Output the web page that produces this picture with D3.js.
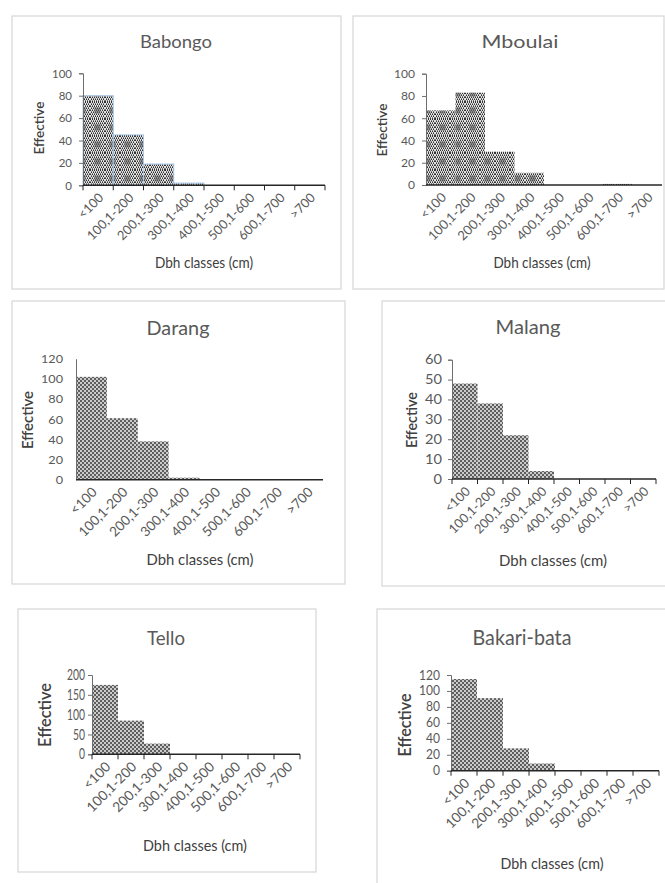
<!DOCTYPE html>
<html>
<head>
<meta charset="utf-8">
<script src="https://cdn.jsdelivr.net/npm/d3@7"></script>
<style>
  html, body { margin: 0; padding: 0; background: #fff; }
  svg { display: block; }
  text { font-family: Lato, "Open Sans", sans-serif; }
</style>
</head>
<body>
<svg id="chart" width="665" height="883"></svg>
<script>
// Diameter classes shared by all sites
const categories = ["<100", "100,1-200", "200,1-300", "300,1-400", "400,1-500", "500,1-600", "600,1-700", ">700"];

// Number of stems per diameter class, one array per site
const babongo    = [80, 45, 19, 2, 0, 0, 0, 0];
const mboulai    = [67, 83, 30, 11, 0, 0, 1, 0];
const darang     = [102, 61, 38, 2, 0, 0, 0, 0];
const malang     = [48, 38, 22, 4, 0, 0, 0, 0];
const tello      = [175, 85, 27, 0, 0, 0, 0, 0];
const bakariBata = [115, 91, 28, 9, 0, 0, 0, 0];

// Y-axis tick values per site
const babongoTicks = [0, 20, 40, 60, 80, 100];
const mboulaiTicks = [0, 20, 40, 60, 80, 100];
const darangTicks  = [0, 20, 40, 60, 80, 100, 120];
const malangTicks  = [0, 10, 20, 30, 40, 50, 60];
const telloTicks   = [0, 50, 100, 150, 200];
const bakariTicks  = [0, 20, 40, 60, 80, 100, 120];

const xTitle = "Dbh classes (cm)";
const yTitle = "Effective";

// Panel layout.
// w = rendered widths (px): [title, x title, y title length, widest tick label, "100,1-200" class label]
// h = cap heights (px) of horizontal texts: [title, x title, tick labels]
const panels = [
  { name: "Babongo", values: babongo, ticks: babongoTicks, max: 100, fill: "coarse", outline: "#a8c8e8",
    box: [12, 16, 341, 289], plot: { x0: 83, x1: 325, y0: 185.3, y1: 73.3 }, xTicks: true, yTicks: true,
    title: [176, 42], yLab: [39, 128], xLab: [204, 263], w: [72, 98, 53, 20, 60], h: [12.7, 11, 8.6], tickGap: 11 },
  { name: "Mboulai", values: mboulai, ticks: mboulaiTicks, max: 100, fill: "coarse", outline: null,
    box: [353, 16, 664, 289], plot: { x0: 426, x1: 662, y0: 185, y1: 73.7 }, xTicks: false, yTicks: true,
    title: [520, 42], yLab: [382, 130], xLab: [542, 263], w: [77, 97, 53, 21, 61], h: [12.5, 10.8, 8.6], tickGap: 11 },
  { name: "Darang", values: darang, ticks: darangTicks, max: 120, fill: "fine", outline: null,
    box: [12, 301, 345, 584], plot: { x0: 76, x1: 323, y0: 479.7, y1: 358.7 }, xTicks: false, yTicks: false,
    title: [178, 328], yLab: [28, 420], xLab: [200, 560], w: [63, 107, 58, 22, 63], h: [14, 11, 8.8], tickGap: 13 },
  { name: "Malang", values: malang, ticks: malangTicks, max: 60, fill: "fine", outline: null,
    box: [382, 301, 666, 586], plot: { x0: 452, x1: 656, y0: 479, y1: 359.7 }, xTicks: true, yTicks: true,
    title: [528, 327], yLab: [412, 420], xLab: [553, 560], w: [65, 108, 56, 17, 60], h: [14.3, 11.7, 9.3], tickGap: 10 },
  { name: "Tello", values: tello, ticks: telloTicks, max: 200, fill: "fine", outline: null,
    box: [18, 609, 316, 872], plot: { x0: 92, x1: 300, y0: 754.3, y1: 675 }, xTicks: true, yTicks: true,
    title: [166, 638], yLab: [45, 715], xLab: [195, 845], w: [38, 104, 64, 18, 64], h: [14, 11.7, 10.5], tickGap: 7 },
  { name: "Bakari-bata", values: bakariBata, ticks: bakariTicks, max: 120, fill: "fine", outline: null,
    box: [377, 609, 667, 891], plot: { x0: 451, x1: 659, y0: 770.7, y1: 675 }, xTicks: true, yTicks: true,
    title: [522, 638], yLab: [405, 725], xLab: [552, 863], w: [99, 103, 63, 21, 64], h: [15, 11.7, 9], tickGap: 11 }
];

const CAP = 0.72; // cap height of the face, as a fraction of the font size

const svg = d3.select("#chart");
const defs = svg.append("defs");

// Size a set of labels so that the reference label spans the requested length
function fitSize(selection, refNode, width) {
  const base = 20;
  selection.style("font-size", base + "px");
  const measured = refNode.getComputedTextLength();
  selection.style("font-size", (base * width / measured).toFixed(2) + "px");
}

// Set the font size from a cap height, then return the horizontal scale giving the requested width
function sizeAndStretch(selection, refNode, capH, width) {
  const fs = capH / CAP;
  selection.style("font-size", fs.toFixed(2) + "px");
  const measured = refNode.getComputedTextLength();
  return Math.max(0.55, Math.min(1.4, width / measured));
}

// Fine 50% stipple fill
const fine = defs.append("pattern").attr("id", "fine")
  .attr("patternUnits", "userSpaceOnUse").attr("width", 4).attr("height", 4);
fine.append("rect").attr("width", 4).attr("height", 4).attr("fill", "#cbcbcb");
[[0, 0], [2, 2]].forEach(([x, y]) =>
  fine.append("rect").attr("x", x).attr("y", y).attr("width", 2).attr("height", 2).attr("fill", "#5e5e5e"));

// Coarse checkered fill with darker blocks
const coarse = defs.append("pattern").attr("id", "coarse")
  .attr("patternUnits", "userSpaceOnUse").attr("width", 15).attr("height", 17);
coarse.append("rect").attr("width", 15).attr("height", 17).attr("fill", "#e2e2e2");
for (let y = 0; y < 17; y += 2) {
  for (let x = 0; x < 15; x += 2) {
    coarse.append("rect").attr("x", x + (y % 4 === 0 ? 0 : 1)).attr("y", y)
      .attr("width", 1).attr("height", 1).attr("fill", "#333");
    coarse.append("rect").attr("x", x + (y % 4 === 0 ? 1 : 0)).attr("y", y + 1)
      .attr("width", 1).attr("height", 1).attr("fill", "#777");
  }
}
coarse.append("rect").attr("x", 4).attr("y", 5).attr("width", 7).attr("height", 7)
  .attr("fill", "#777").attr("opacity", 0.45);
coarse.append("rect").attr("x", 5).attr("y", 6).attr("width", 5).attr("height", 5)
  .attr("fill", "#444").attr("opacity", 0.3);

panels.forEach(p => {
  const g = svg.append("g");
  const [bx0, by0, bx1, by1] = p.box;

  // chart frame
  g.append("rect").attr("x", bx0).attr("y", by0)
    .attr("width", bx1 - bx0).attr("height", by1 - by0)
    .attr("fill", "#fff").attr("stroke", "#d9d9d9").attr("stroke-width", 1.3);

  const x = d3.scaleBand().domain(categories).range([p.plot.x0, p.plot.x1]).padding(0);
  const y = d3.scaleLinear().domain([0, p.max]).range([p.plot.y0, p.plot.y1]);

  // bars
  g.append("g").selectAll("rect").data(p.values).join("rect")
    .attr("x", (d, i) => x(categories[i]))
    .attr("y", d => y(d))
    .attr("width", x.bandwidth())
    .attr("height", d => y(0) - y(d))
    .attr("fill", `url(#${p.fill})`)
    .attr("stroke", p.outline || "none")
    .attr("stroke-width", p.outline ? 1 : 0);

  // y axis
  const tickLen = p.yTicks ? 4 : 0;
  const yAxis = d3.axisLeft(y).tickValues(p.ticks).tickSize(tickLen).tickPadding(p.tickGap - tickLen);
  const ya = g.append("g").attr("transform", `translate(${p.plot.x0},0)`).call(yAxis);
  ya.select(".domain").attr("stroke", "#6e6e6e").attr("stroke-width", 1);
  ya.selectAll(".tick line").attr("stroke", "#6e6e6e");
  const tickTexts = ya.selectAll(".tick text").attr("fill", "#595959")
    .style("font-family", "Lato, 'Open Sans', sans-serif");
  const sxTick = sizeAndStretch(tickTexts, tickTexts.nodes()[tickTexts.size() - 1], p.h[2], p.w[3]);
  tickTexts.attr("x", -p.tickGap / sxTick).attr("transform", `scale(${sxTick},1)`);

  // x axis with class boundaries as tick marks
  const xa = g.append("g").attr("transform", `translate(0,${p.plot.y0})`);
  xa.append("line").attr("x1", p.plot.x0).attr("x2", p.plot.x1)
    .attr("y1", 0).attr("y2", 0).attr("stroke", "#262626").attr("stroke-width", 1.6);
  if (p.xTicks) {
    const bounds = categories.map(c => x(c)).concat([x(categories[categories.length - 1]) + x.bandwidth()]);
    xa.selectAll("line.tk").data(bounds).join("line").attr("class", "tk")
      .attr("x1", d => d).attr("x2", d => d).attr("y1", 0).attr("y2", 5)
      .attr("stroke", "#262626").attr("stroke-width", 1);
  }
  const cats = xa.selectAll("text.cat").data(categories).join("text").attr("class", "cat")
    .attr("transform", d => `translate(${x(d) + x.bandwidth() / 2 + 3},${10}) rotate(-45)`)
    .attr("text-anchor", "end").attr("dy", "0.35em")
    .attr("fill", "#595959")
    .text(d => d);
  fitSize(cats, cats.nodes()[1], p.w[4]);

  // chart title
  const tg = g.append("g").attr("transform", `translate(${p.title[0]},${p.title[1]})`);
  const t = tg.append("text").attr("dy", "0.35em").attr("text-anchor", "middle")
    .attr("fill", "#595959").text(p.name);
  t.attr("transform", `scale(${sizeAndStretch(t, t.node(), p.h[0], p.w[0])},1)`);

  // axis titles
  const yl = g.append("text").attr("transform", `translate(${p.yLab[0]},${p.yLab[1]}) rotate(-90)`)
    .attr("dy", "0.35em").attr("text-anchor", "middle").attr("fill", "#404040")
    .style("font-weight", 600).text(yTitle);
  fitSize(yl, yl.node(), p.w[2]);

  const xg = g.append("g").attr("transform", `translate(${p.xLab[0]},${p.xLab[1]})`);
  const xl = xg.append("text").attr("dy", "0.35em").attr("text-anchor", "middle")
    .attr("fill", "#404040").text(xTitle);
  xl.attr("transform", `scale(${sizeAndStretch(xl, xl.node(), p.h[1], p.w[1])},1)`);
});
</script>
</body>
</html>
